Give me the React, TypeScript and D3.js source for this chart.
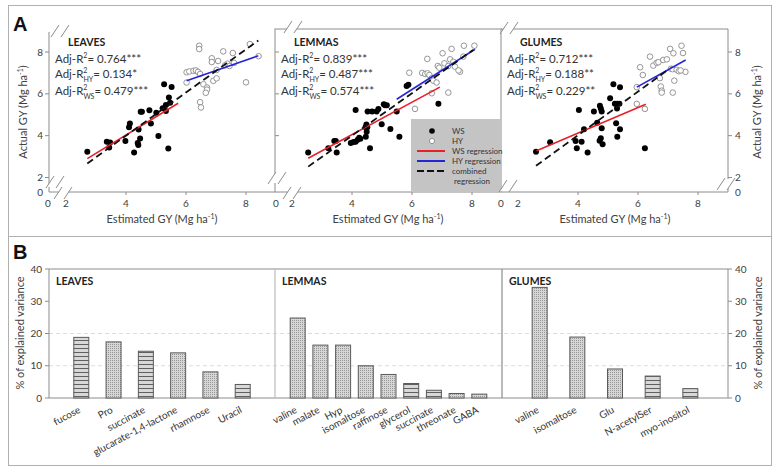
import React from "react";
import * as d3 from "d3";

// ---------- Panel A data (Estimated GY, Actual GY) ----------
const leavesWS: [number, number][] = [
  [2.71, 3.23], [3.36, 3.71], [3.47, 3.67], [3.44, 3.43], [3.98, 3.74], [4.27, 3.2], [4.39, 3.65],
  [4.41, 3.55], [4.47, 3.86], [4.13, 4.58], [4.1, 4.4], [4.42, 4.3], [4.49, 5.14], [4.53, 5.14],
  [4.78, 5.22], [4.83, 4.58], [5.01, 5.09], [5.08, 3.98], [5.22, 5.31], [5.27, 6.46], [5.33, 5.47],
  [5.41, 3.39], [5.43, 5.83], [5.52, 6.33], [5.47, 5.57], [5.33, 5.18],
];
const leavesHY: [number, number][] = [
  [6.44, 8.3], [6.44, 8.14], [6.02, 7.03], [6.02, 6.54], [6.11, 7.07], [6.25, 7.1], [6.33, 7.12],
  [6.4, 7.05], [6.47, 6.95], [6.58, 6.46], [6.7, 6.3], [6.7, 6.2], [6.66, 6.05], [6.47, 5.6],
  [6.5, 5.35], [6.86, 7.7], [6.86, 7.52], [7.07, 7.57], [6.91, 6.62], [7.02, 6.74], [7.24, 8.03],
  [7.3, 7.36], [7.38, 7.44], [7.45, 7.33], [7.6, 7.48], [7.56, 7.95], [8.0, 6.55], [8.13, 8.38],
  [8.42, 7.8], [7.02, 7.14],
];
const lemmasWS: [number, number][] = [
  [2.54, 3.2], [3.21, 3.4], [3.41, 3.75], [3.46, 3.75], [3.49, 3.19], [3.96, 3.65], [4.05, 3.7],
  [4.12, 3.71], [4.19, 3.8], [4.24, 3.9], [4.28, 3.85], [4.46, 3.95], [4.49, 4.19], [4.6, 3.4],
  [4.45, 4.4], [4.48, 4.53], [4.51, 4.4], [4.12, 5.23], [4.52, 5.15], [4.67, 5.15], [4.82, 5.15],
  [4.88, 5.28], [4.99, 4.55], [5.06, 5.5], [5.1, 5.45], [5.16, 5.45], [5.28, 4.32], [5.49, 5.15],
  [5.58, 3.95], [5.82, 6.38], [5.88, 6.43], [6.88, 5.52],
];
const lemmasHY: [number, number][] = [
  [5.91, 7.01], [6.1, 5.28], [6.34, 7.0], [6.44, 6.95], [6.52, 6.98], [6.58, 6.9], [6.51, 7.67],
  [6.66, 6.75], [6.71, 6.63], [6.66, 6.03], [6.82, 6.54], [6.86, 7.33], [6.91, 7.25], [7.02, 7.94],
  [7.08, 7.46], [7.21, 6.06], [7.21, 7.33], [7.27, 7.65], [7.32, 8.15], [7.38, 7.53], [7.43, 7.3],
  [7.6, 7.06], [7.55, 7.12], [7.73, 8.3], [7.71, 7.78], [8.08, 8.3],
];
const glumesWS: [number, number][] = [
  [2.6, 3.23], [3.07, 3.68], [3.92, 3.75], [3.96, 3.4], [4.03, 5.23], [4.12, 3.71], [4.32, 3.19],
  [4.2, 4.31], [4.53, 5.15], [4.64, 4.62], [4.73, 5.43], [4.76, 5.3], [4.79, 5.15], [4.76, 3.88],
  [4.72, 3.76], [4.82, 3.59], [4.79, 4.35], [5.07, 5.79], [5.18, 6.46], [5.23, 5.52], [5.3, 5.52],
  [5.38, 5.52], [5.27, 4.59], [5.31, 3.95], [5.4, 4.31], [5.4, 6.32], [5.3, 5.3], [6.23, 3.4],
];
const glumesHY: [number, number][] = [
  [5.96, 6.32], [5.96, 5.52], [6.07, 7.27], [6.16, 6.9], [6.23, 5.28], [6.4, 7.78], [6.51, 7.35],
  [6.62, 7.48], [6.68, 7.51], [6.73, 6.75], [6.76, 6.35], [6.79, 6.15], [6.79, 6.06], [6.84, 7.62],
  [6.96, 7.65], [7.07, 8.15], [7.18, 7.94], [7.16, 6.06], [7.21, 6.63], [7.1, 7.2], [7.15, 7.18],
  [7.29, 7.15], [7.36, 7.08], [7.45, 8.3], [7.5, 7.95], [7.58, 7.05], [7.42, 7.12],
];
// regression line end points (x, y)
const leavesWSReg: [number, number][] = [[2.71, 2.9], [5.74, 5.55]];
const leavesHYReg: [number, number][] = [[6.02, 6.62], [8.41, 7.82]];
const leavesAllReg: [number, number][] = [[2.71, 2.67], [8.41, 8.55]];
const lemmasWSReg: [number, number][] = [[2.54, 2.92], [6.93, 6.32]];
const lemmasHYReg: [number, number][] = [[5.49, 5.74], [8.1, 8.13]];
const lemmasAllReg: [number, number][] = [[2.54, 2.52], [8.04, 8.1]];
const glumesWSReg: [number, number][] = [[2.62, 3.28], [6.26, 5.5]];
const glumesHYReg: [number, number][] = [[5.96, 6.32], [7.59, 7.62]];
const glumesAllReg: [number, number][] = [[2.6, 2.56], [7.0, 7.15]];

const tissueNames = ["LEAVES", "LEMMAS", "GLUMES"];
const adjR2 = ["0.764***", "0.839***", "0.712***"];
const adjR2HY = ["0.134*", "0.487***", "0.188**"];
const adjR2WS = ["0.479***", "0.574***", "0.229**"];
const gyTicks = [2, 4, 6, 8];

// ---------- Panel B data ----------
const leavesCats = ["fucose", "Pro", "succinate", "glucarate-1,4-lactone", "rhamnose", "Uracil"];
const leavesVals = [18.8, 17.4, 14.5, 14.0, 8.1, 4.2];
const leavesPat = ["s", "d", "s", "d", "d", "s"];
const lemmasCats = ["valine", "malate", "Hyp", "isomaltose", "raffinose", "glycerol", "succinate", "threonate", "GABA"];
const lemmasVals = [24.8, 16.4, 16.4, 10.0, 7.3, 4.5, 2.4, 1.4, 1.2];
const lemmasPat = ["d", "d", "d", "d", "d", "s", "s", "d", "d"];
const glumesCats = ["valine", "isomaltose", "Glu", "N-acetylSer", "myo-inositol"];
const glumesVals = [34.3, 18.9, 9.0, 6.8, 2.9];
const glumesPat = ["d", "d", "d", "s", "s"];
const varTicks = [0, 10, 20, 30, 40];

const FONT = "Lato, 'Open Sans', sans-serif";
const AX = "#8c8c8c";
const TX = "#404040";

const yA = d3.scaleLinear().domain([2, 8]).range([177.5, 52]);
const Y0A = 192;
const xLeaves = d3.scaleLinear().domain([2, 8]).range([66, 246]);
const xLemmas = d3.scaleLinear().domain([2, 8]).range([292, 472]);
const xGlumes = d3.scaleLinear().domain([2, 8]).range([518, 698]);

const yB = d3.scaleLinear().domain([0, 40]).range([398, 269]);

function Brk({ cx, cy }: { cx: number; cy: number }) {
  const d = 5;
  return (
    <g>
      <polygon
        points={`${cx - d - 3},${cy + 5} ${cx - d + 3},${cy - 5} ${cx + d + 3},${cy - 5} ${cx + d - 3},${cy + 5}`}
        fill="#fff"
      />
      <line x1={cx - d - 4} y1={cy + 6} x2={cx - d + 4} y2={cy - 6} stroke={AX} strokeWidth={1} />
      <line x1={cx + d - 4} y1={cy + 6} x2={cx + d + 4} y2={cy - 6} stroke={AX} strokeWidth={1} />
    </g>
  );
}

function Scatter({
  x, ws, hy, wsReg, hyReg, allReg, idx, tx,
}: {
  x: d3.ScaleLinear<number, number>;
  ws: [number, number][];
  hy: [number, number][];
  wsReg: [number, number][];
  hyReg: [number, number][];
  allReg: [number, number][];
  idx: number;
  tx: number;
}) {
  const line = d3.line<[number, number]>().x((d) => x(d[0])).y((d) => yA(d[1]));
  return (
    <g>
      {ws.map((p, i) => (
        <circle key={"w" + i} cx={x(p[0])} cy={yA(p[1])} r={3} fill="#000" />
      ))}
      {hy.map((p, i) => (
        <circle key={"h" + i} cx={x(p[0])} cy={yA(p[1])} r={2.8} fill="#fff" stroke="#8a8a8a" strokeWidth={0.9} />
      ))}
      <path d={line(wsReg) || ""} stroke="#e8202a" strokeWidth={1.6} fill="none" />
      <path d={line(hyReg) || ""} stroke="#2525d8" strokeWidth={1.6} fill="none" />
      <path d={line(allReg) || ""} stroke="#111" strokeWidth={1.8} strokeDasharray="7,4" fill="none" />
      <text x={tx + 13} y={46} fontSize={10.5} fontWeight="bold" fill="#222" fontFamily={FONT}>
        {tissueNames[idx]}
      </text>
      <text x={tx} y={63} fontSize={11.5} fill="#333" fontFamily={FONT}>
        Adj-R<tspan dy={-5} fontSize={7}>2</tspan>
        <tspan dy={5}>= {adjR2[idx]}</tspan>
      </text>
      <text x={tx} y={78} fontSize={11.5} fill="#333" fontFamily={FONT}>
        Adj-R<tspan dy={-5} fontSize={7}>2</tspan>
        <tspan dx={-4} dy={9} fontSize={7}>HY</tspan>
        <tspan dy={-4}>= {adjR2HY[idx]}</tspan>
      </text>
      <text x={tx} y={95} fontSize={11.5} fill="#333" fontFamily={FONT}>
        Adj-R<tspan dy={-5} fontSize={7}>2</tspan>
        <tspan dx={-4} dy={9} fontSize={7}>WS</tspan>
        <tspan dy={-4}>= {adjR2WS[idx]}</tspan>
      </text>
    </g>
  );
}

function XTicks({ x, zeroX }: { x: d3.ScaleLinear<number, number>; zeroX: number }) {
  return (
    <g fontFamily={FONT} fontSize={10} fill={TX} textAnchor="middle">
      <text x={zeroX} y={207}>0</text>
      {gyTicks.map((t) => (
        <g key={t}>
          {t > 2 && <line x1={x(t)} x2={x(t)} y1={Y0A} y2={Y0A + 3} stroke={AX} />}
          <text x={x(t)} y={207}>{t}</text>
        </g>
      ))}
    </g>
  );
}

function XTitle({ cx }: { cx: number }) {
  return (
    <text x={cx} y={223} textAnchor="middle" fontFamily={FONT} fontSize={11} fill={TX}>
      Estimated GY (Mg ha<tspan dy={-4} fontSize={7}>-1</tspan>
      <tspan dy={4}>)</tspan>
    </text>
  );
}

function Bars({
  cats, vals, pats, x0, x1, title,
}: {
  cats: string[]; vals: number[]; pats: string[]; x0: number; x1: number; title: string;
}) {
  const x = d3.scalePoint<string>().domain(cats).range([x0, x1]).padding(1);
  const bw = 15;
  return (
    <g>
      <text x={x0 + 7} y={285} fontSize={10.5} fontWeight="bold" fill="#222" fontFamily={FONT}>
        {title}
      </text>
      {cats.map((c, i) => {
        const cx = x(c) as number;
        return (
          <g key={c + i}>
            <rect
              x={cx - bw / 2}
              y={yB(vals[i])}
              width={bw}
              height={yB(0) - yB(vals[i])}
              fill={pats[i] === "s" ? "url(#stripes)" : "url(#dots)"}
              stroke="#5a5a5a"
              strokeWidth={1}
            />
            <text
              transform={`translate(${cx},${412}) rotate(-28)`}
              textAnchor="end"
              fontSize={10}
              fill="#333"
              fontFamily={FONT}
            >
              {c}
            </text>
          </g>
        );
      })}
    </g>
  );
}

export default function App() {
  return (
    <svg width={777} height={472} style={{ position: "absolute", left: 0, top: 0, background: "#fff" }}>
      <defs>
        <pattern id="stripes" width={4} height={4} patternUnits="userSpaceOnUse">
          <rect width={4} height={4} fill="#d8d8d8" />
          <line x1={0} x2={4} y1={0.5} y2={0.5} stroke="#606060" strokeWidth={1} />
        </pattern>
        <pattern id="dots" width={2} height={2} patternUnits="userSpaceOnUse">
          <rect width={2} height={2} fill="#d6d6d6" />
          <rect width={1} height={1} fill="#979797" />
        </pattern>
      </defs>

      {/* frames */}
      <rect x={8.5} y={5.5} width={763} height={460} fill="none" stroke="#b0b0b0" strokeWidth={1} />
      <line x1={8} x2={772} y1={236.5} y2={236.5} stroke="#b0b0b0" strokeWidth={1.2} />

      {/* ---------- Panel A ---------- */}
      <text x={13} y={31} fontSize={20} fontWeight="bold" fontFamily="'Liberation Sans', Arial, sans-serif" fill="#111">A</text>

      {/* Lemmas box */}
      <rect x={275} y={29} width={226} height={Y0A - 29} fill="none" stroke={AX} strokeWidth={1} />
      {/* legend */}
      <rect x={411} y={119} width={90} height={Y0A - 119} fill="#c4c4c4" />
      {/* glumes frame */}
      <line x1={501} x2={728} y1={29} y2={29} stroke={AX} />
      <line x1={501} x2={728} y1={Y0A} y2={Y0A} stroke={AX} />
      <line x1={728} x2={728} y1={29} y2={Y0A} stroke={AX} />
      {/* leaves axes */}
      <line x1={49} x2={49} y1={32} y2={Y0A} stroke={AX} />
      <line x1={49} x2={275} y1={Y0A} y2={Y0A} stroke={AX} />

      {/* leaves y ticks */}
      <g fontFamily={FONT} fontSize={10} fill={TX} textAnchor="end">
        {gyTicks.map((t) => (
          <g key={t}>
            <line x1={45} x2={49} y1={yA(t)} y2={yA(t)} stroke={AX} />
            <text x={43} y={yA(t) + 3.5}>{t}</text>
          </g>
        ))}
        <text x={43} y={Y0A + 3.5}>0</text>
      </g>
      {/* lemmas inner y ticks */}
      {gyTicks.slice(1).map((t) => (
        <line key={t} x1={275} x2={279} y1={yA(t)} y2={yA(t)} stroke={AX} />
      ))}
      {/* glumes right y ticks */}
      <g fontFamily={FONT} fontSize={10} fill={TX} textAnchor="start">
        {gyTicks.map((t) => (
          <g key={t}>
            <line x1={728} x2={732} y1={yA(t)} y2={yA(t)} stroke={AX} />
            <text x={735} y={yA(t) + 3.5}>{t}</text>
          </g>
        ))}
        <text x={735} y={Y0A + 3.5}>0</text>
      </g>

      <XTicks x={xLeaves} zeroX={48} />
      <XTicks x={xLemmas} zeroX={276} />
      <XTicks x={xGlumes} zeroX={501} />
      <XTitle cx={162} />
      <XTitle cx={388} />
      <XTitle cx={615} />

      <text transform="translate(27,112) rotate(-90)" textAnchor="middle" fontFamily={FONT} fontSize={11} fill={TX}>
        Actual GY (Mg ha<tspan dy={-4} fontSize={7}>-1</tspan>
        <tspan dy={4}>)</tspan>
      </text>
      <text transform="translate(761,112) rotate(-90)" textAnchor="middle" fontFamily={FONT} fontSize={11} fill={TX}>
        Actual GY (Mg ha<tspan dy={-4} fontSize={7}>-1</tspan>
        <tspan dy={4}>)</tspan>
      </text>

      {/* axis breaks */}
      <Brk cx={60} cy={31} />
      <Brk cx={55} cy={182} />
      <Brk cx={63} cy={193} />
      <Brk cx={293} cy={27} />
      <Brk cx={277} cy={178} />
      <Brk cx={292} cy={193} />
      <Brk cx={509} cy={28} />
      <Brk cx={508} cy={186} />
      <Brk cx={726} cy={184} />

      <Scatter x={xLeaves} ws={leavesWS} hy={leavesHY} wsReg={leavesWSReg} hyReg={leavesHYReg} allReg={leavesAllReg} idx={0} tx={55} />
      <Scatter x={xLemmas} ws={lemmasWS} hy={lemmasHY} wsReg={lemmasWSReg} hyReg={lemmasHYReg} allReg={lemmasAllReg} idx={1} tx={281} />
      <Scatter x={xGlumes} ws={glumesWS} hy={glumesHY} wsReg={glumesWSReg} hyReg={glumesHYReg} allReg={glumesAllReg} idx={2} tx={507} />

      {/* legend entries */}
      <g fontFamily={FONT} fontSize={8} fill="#333">
        <circle cx={432} cy={131} r={2.8} fill="#000" />
        <text x={452} y={134}>WS</text>
        <circle cx={432} cy={141} r={2.6} fill="#fff" stroke="#8a8a8a" strokeWidth={0.9} />
        <text x={452} y={144}>HY</text>
        <line x1={417} x2={445} y1={151} y2={151} stroke="#e8202a" strokeWidth={2} />
        <text x={452} y={154}>WS regression</text>
        <line x1={417} x2={445} y1={161} y2={161} stroke="#2525d8" strokeWidth={2} />
        <text x={452} y={164}>HY regression</text>
        <line x1={417} x2={445} y1={171} y2={171} stroke="#111" strokeWidth={2} strokeDasharray="7,3" />
        <text x={452} y={174}>combined</text>
        <text x={454} y={184}>regression</text>
      </g>

      {/* ---------- Panel B ---------- */}
      <text x={13} y={259} fontSize={20} fontWeight="bold" fontFamily="'Liberation Sans', Arial, sans-serif" fill="#111">B</text>
      {[10, 20].map((t) => (
        <line key={t} x1={49} x2={728} y1={yB(t)} y2={yB(t)} stroke="#dcdcdc" strokeDasharray="4,3" />
      ))}
      <line x1={49} x2={728} y1={yB(40)} y2={yB(40)} stroke={AX} />
      <line x1={49} x2={728} y1={yB(0)} y2={yB(0)} stroke={AX} />
      <line x1={49} x2={49} y1={yB(40)} y2={yB(0)} stroke={AX} />
      <line x1={728} x2={728} y1={yB(40)} y2={yB(0)} stroke={AX} />
      <line x1={275} x2={275} y1={yB(40)} y2={yB(0)} stroke="#bdbdbd" strokeWidth={1.2} />
      <line x1={502} x2={502} y1={yB(40)} y2={yB(0)} stroke="#8c8c8c" strokeWidth={1.2} />
      <g fontFamily={FONT} fontSize={10} fill={TX}>
        {varTicks.map((t) => (
          <g key={t}>
            <line x1={45} x2={49} y1={yB(t)} y2={yB(t)} stroke={AX} />
            <text x={42} y={yB(t) + 3.5} textAnchor="end">{t}</text>
            <line x1={728} x2={732} y1={yB(t)} y2={yB(t)} stroke={AX} />
            <text x={735} y={yB(t) + 3.5}>{t}</text>
          </g>
        ))}
      </g>
      <text transform="translate(24,333) rotate(-90)" textAnchor="middle" fontFamily={FONT} fontSize={11} fill={TX}>
        % of explained variance
      </text>
      <text transform="translate(762,333) rotate(-90)" textAnchor="middle" fontFamily={FONT} fontSize={11} fill={TX}>
        % of explained variance
      </text>

      <Bars cats={leavesCats} vals={leavesVals} pats={leavesPat} x0={49} x1={275} title="LEAVES" />
      <Bars cats={lemmasCats} vals={lemmasVals} pats={lemmasPat} x0={275} x1={502} title="LEMMAS" />
      <Bars cats={glumesCats} vals={glumesVals} pats={glumesPat} x0={502} x1={728} title="GLUMES" />
    </svg>
  );
}
